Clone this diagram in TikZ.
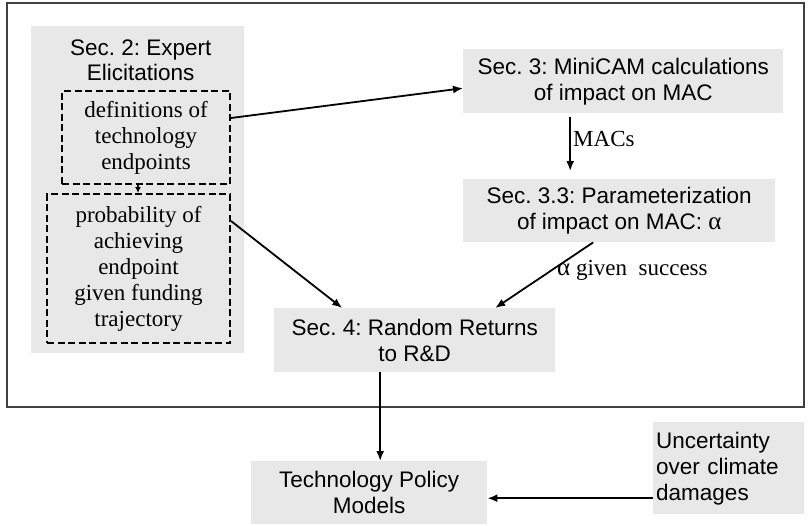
\documentclass[tikz,border=0pt]{standalone}
\usepackage{fontspec}
\setmainfont{Liberation Sans}
\newfontfamily\tnr{Liberation Serif}
\usepackage{tikz}
\usetikzlibrary{arrows.meta}
\frenchspacing

\definecolor{boxgray}{HTML}{E8E8E8}
\definecolor{framegray}{HTML}{404040}

\tikzset{
  secbox/.style={rectangle,fill=boxgray,inner sep=0pt,anchor=north west,align=center,
    font=\fontsize{22.5}{26}\selectfont},
  dashbox/.style={secbox,draw=black,line width=2pt,dash pattern=on 7pt off 3.5pt,
    font=\tnr\fontsize{23}{26}\selectfont},
  flow/.style={->,line width=1.8pt},
  lbl/.style={anchor=base west,inner sep=0pt,font=\tnr\fontsize{23}{26}\selectfont}
}

\begin{document}
\begin{tikzpicture}[x=1pt,y=-1pt,>={Latex[length=10pt,width=8pt]}]

  \useasboundingbox (0,0) rectangle (810,525);
  \draw[framegray,line width=1.3pt] (7,3) rectangle (804,407);

  % expert elicitations
  \node[secbox,minimum width=213pt,minimum height=327pt] (sec2) at (31,26) {};
  \node[anchor=north,align=center,inner sep=0pt,font=\fontsize{22.5}{25}\selectfont]
       (sec2t) at ([xshift=3pt,yshift=-14pt]sec2.north) {Sec. 2: Expert\\Elicitations};
  \node[dashbox,minimum width=168pt,minimum height=93pt] (def) at (61,90)
       {definitions of\\technology\\endpoints};
  \node[dashbox,minimum width=183pt,minimum height=149pt] (prob) at (46,193)
       {probability of\\achieving\\endpoint\\given funding\\trajectory};

  % right column
  \node[secbox,minimum width=320pt,minimum height=64pt] (sec3) at (463,49)
       {Sec. 3: MiniCAM calculations\\of impact on MAC};
  \node[secbox,minimum width=312pt,minimum height=63pt] (sec33) at (463,179)
       {Sec. 3.3: Parameterization\\of impact on MAC: {\tnr\fontsize{25}{26}\selectfont α}};
  \node[secbox,minimum width=281pt,minimum height=64pt] (sec4) at (274,308)
       {Sec. 4: Random Returns\\to R\&D};

  % outside the frame
  \node[secbox,minimum width=236pt,minimum height=63pt] (tech) at (251,461)
       {Technology Policy\\Models};
  \node[secbox,minimum width=151pt,minimum height=92pt,align=left,inner xsep=3pt,
        text width=145pt] (unc) at (653,422)
       {Uncertainty\\over climate\\damages};

  \node[lbl] (macs) at (573,146) {MACs};
  \node[lbl] (alpha) at (557,275) {{\fontsize{25}{26}\selectfont α} given~ success};

  \draw[flow,line width=1.3pt,>={Latex[length=6pt,width=6pt]}] ([xshift=-8pt]def.south)
       -- ([xshift=-8pt]def.south |- prob.north);
  \draw[flow] ([yshift=19.5pt]def.east) -- ([yshift=-7pt]sec3.west);
  \draw[flow] ([yshift=47.5pt]prob.east) -- ([xshift=-72.5pt]sec4.north);
  \draw[flow] ([xshift=-53pt,yshift=-4pt]sec3.south) -- ([xshift=-49pt,yshift=8pt]sec33.north);
  \draw[flow] ([xshift=-26pt]sec33.south) -- ([xshift=80.5pt]sec4.north);
  \draw[flow] ([xshift=-34.5pt]sec4.south) -- ([xshift=-34.5pt]sec4.south |- tech.north);
  \coordinate (uncout) at ([yshift=-30pt]unc.west);
  \draw[flow] (uncout) -- (uncout -| tech.east);

\end{tikzpicture}
\end{document}
